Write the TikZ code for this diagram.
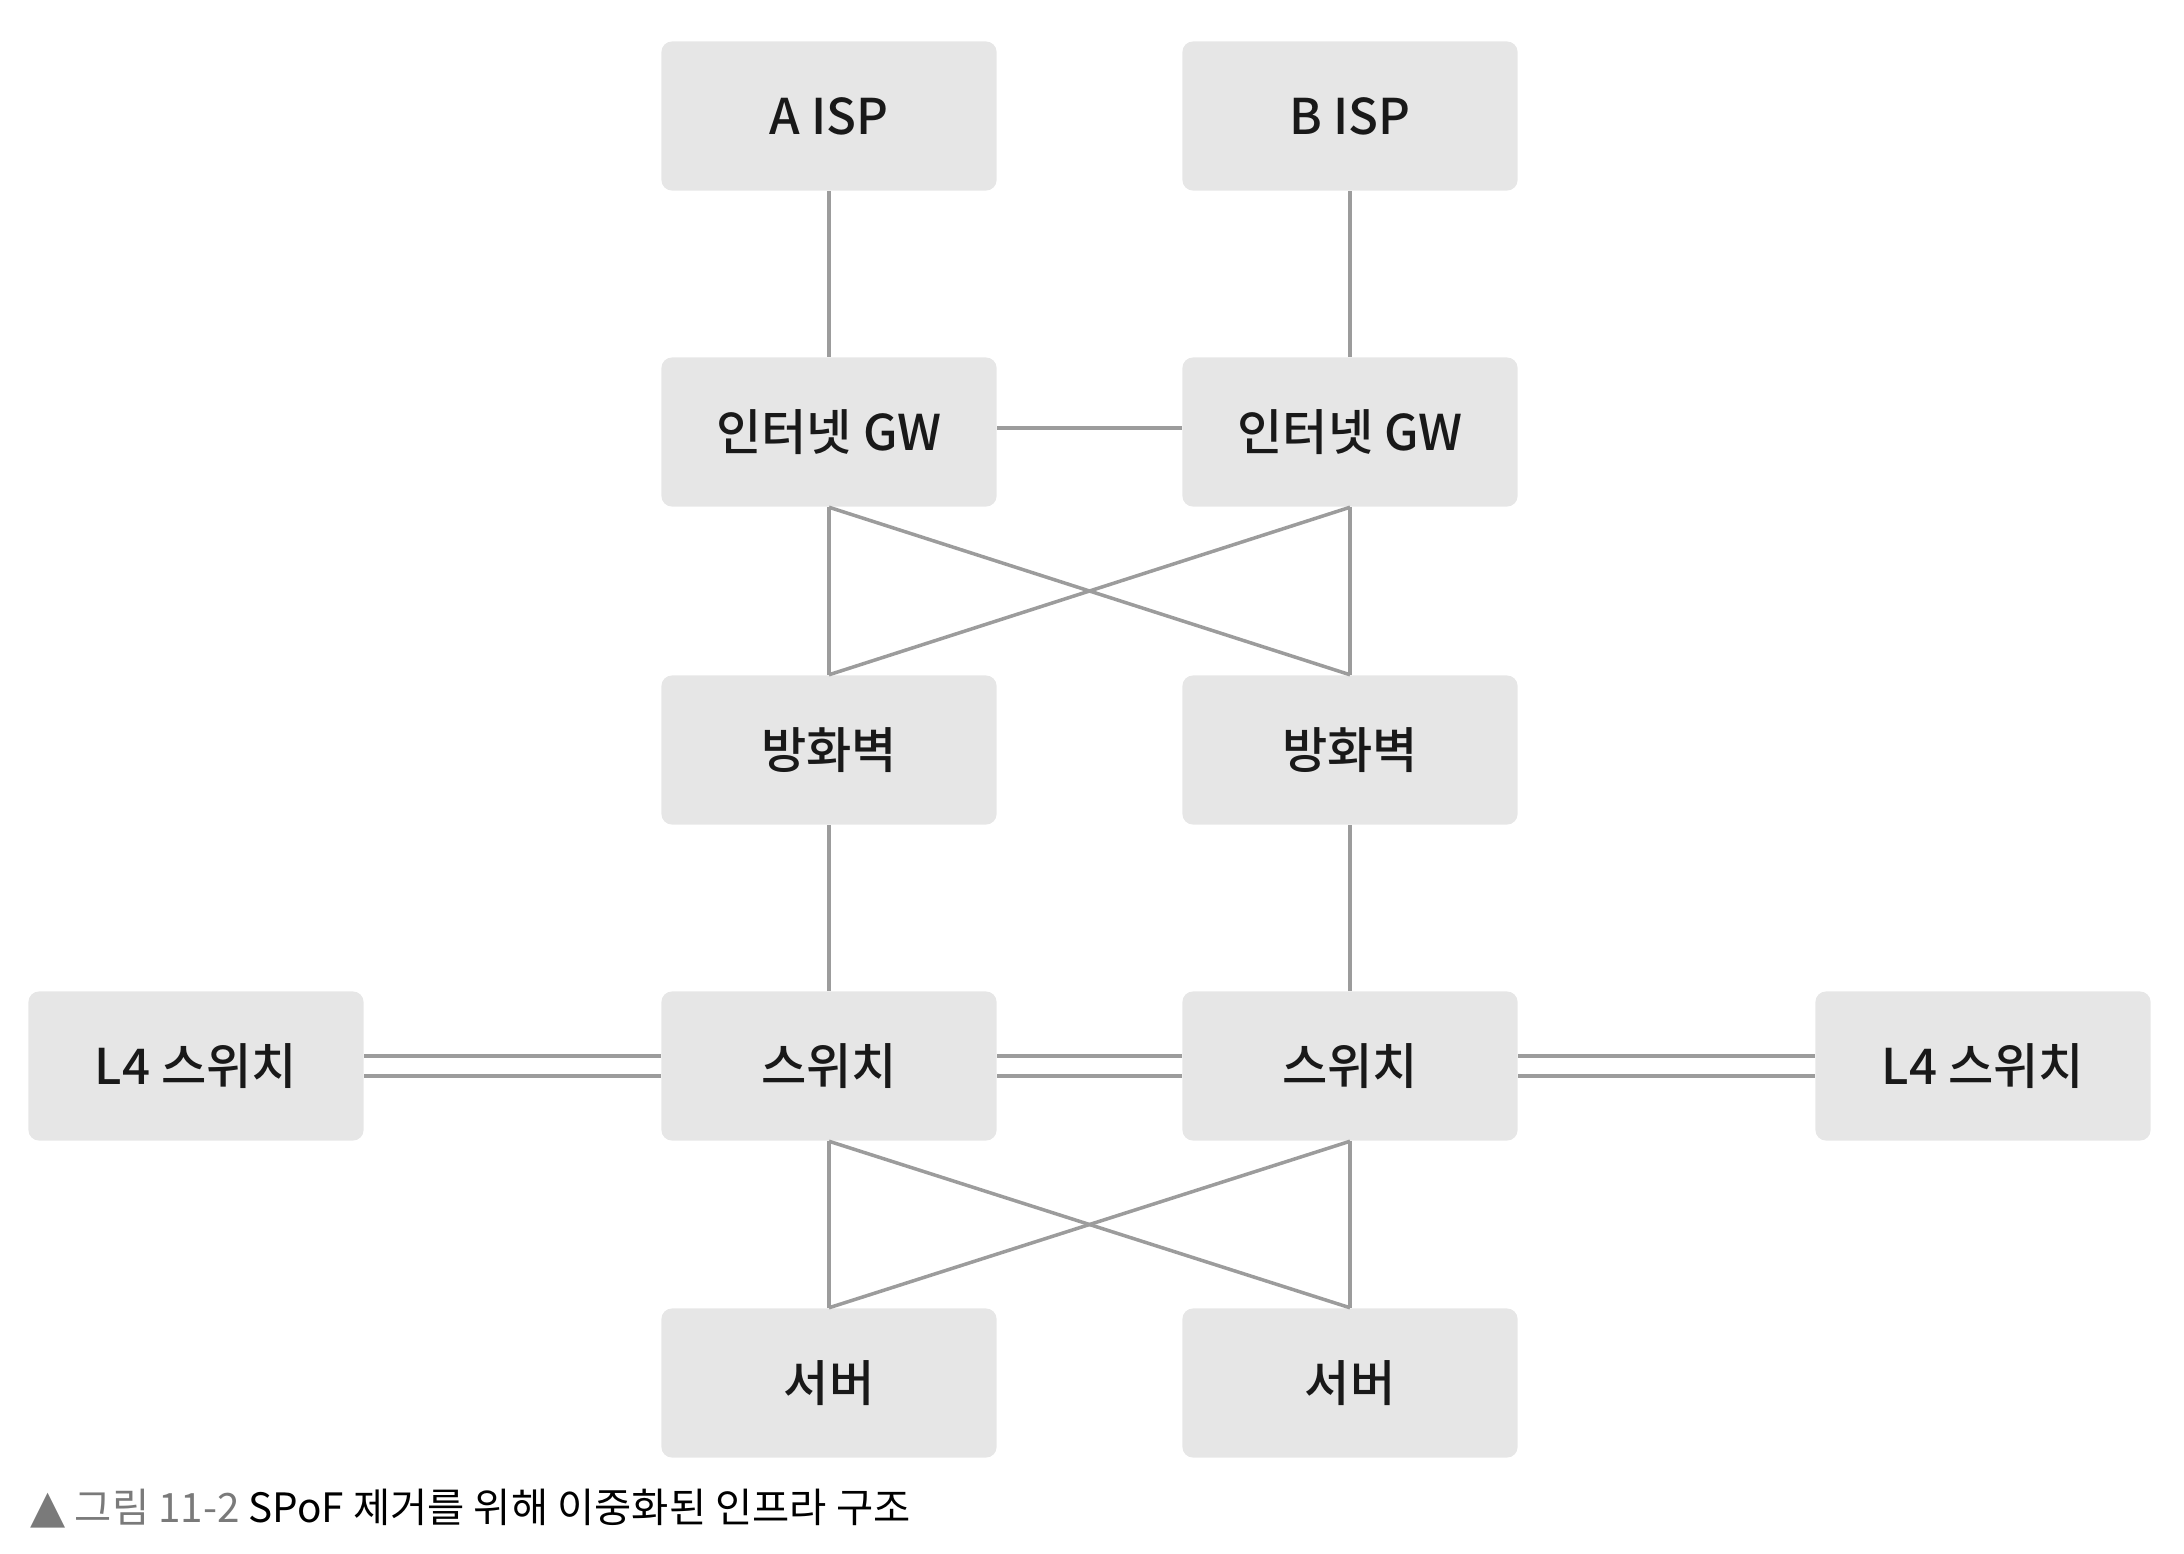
\documentclass[tikz,border=0pt]{standalone}
\usepackage{fontspec}
\setmainfont{Noto Sans CJK KR}[BoldFont={Noto Sans CJK KR Medium}]
\newfontfamily\symfont{DejaVu Sans}
\definecolor{boxgray}{HTML}{E6E6E6}
\definecolor{linegray}{HTML}{9C9C9C}
\definecolor{capgray}{HTML}{7A7A7A}
\tikzset{
  netbox/.style={fill=boxgray, rounded corners=3pt, minimum width=3.35cm, minimum height=1.49cm,
    inner sep=0pt, font=\fontsize{14}{16}\selectfont\bfseries, text=black!90},
  link/.style={draw=linegray, line width=1pt},
  duallink/.style={draw=linegray, line width=1pt, double=white, double distance=4.6pt}
}
\begin{document}
\begin{tikzpicture}[x=0.01cm, y=-0.01cm]
    % Page frame
    \useasboundingbox (0,0) rectangle (2184,1554);

    % Define the ISP and gateway boxes
    \node[netbox] (ispa) at (829,116) {A ISP};
    \node[netbox] (ispb) at (1350,116) {B ISP};
    \node[netbox] (gwa) at (829,432) {인터넷 GW};
    \node[netbox] (gwb) at (1350,432) {인터넷 GW};

    % Firewalls, switches and servers
    \node[netbox] (fwa) at (829,750) {방화벽};
    \node[netbox] (fwb) at (1350,750) {방화벽};
    \node[netbox] (swa) at (829,1066) {스위치};
    \node[netbox] (swb) at (1350,1066) {스위치};
    \node[netbox] (l4a) at (196,1066) {L4 스위치};
    \node[netbox] (l4b) at (1983,1066) {L4 스위치};
    \node[netbox] (sva) at (829,1383) {서버};
    \node[netbox] (svb) at (1350,1383) {서버};

    % Draw the single links
    \draw[link] (ispa) -- (gwa);
    \draw[link] (ispb) -- (gwb);
    \draw[link] ([yshift=0.04cm]gwa.east) -- ([yshift=0.04cm]gwb.west);
    \draw[link] (gwa) -- (fwa);
    \draw[link] (gwb) -- (fwb);
    \draw[link] (gwa.south) -- (fwb.north);
    \draw[link] (gwb.south) -- (fwa.north);
    \draw[link] (fwa) -- (swa);
    \draw[link] (fwb) -- (swb);
    \draw[link] (swa) -- (sva);
    \draw[link] (swb) -- (svb);
    \draw[link] (swa.south) -- (svb.north);
    \draw[link] (swb.south) -- (sva.north);

    % Draw the doubled links
    \draw[duallink] (l4a) -- (swa);
    \draw[duallink] (swa) -- (swb);
    \draw[duallink] (swb) -- (l4b);

    % Caption
    \node[anchor=west, inner sep=0pt, font=\fontsize{11.5}{13}\selectfont] (caption) at (30,1509)
      {{\color{capgray}{\symfont\fontsize{13}{13}\selectfont ▲} 그림 11-2} SPoF 제거를 위해 이중화된 인프라 구조};
\end{tikzpicture}
\end{document}
